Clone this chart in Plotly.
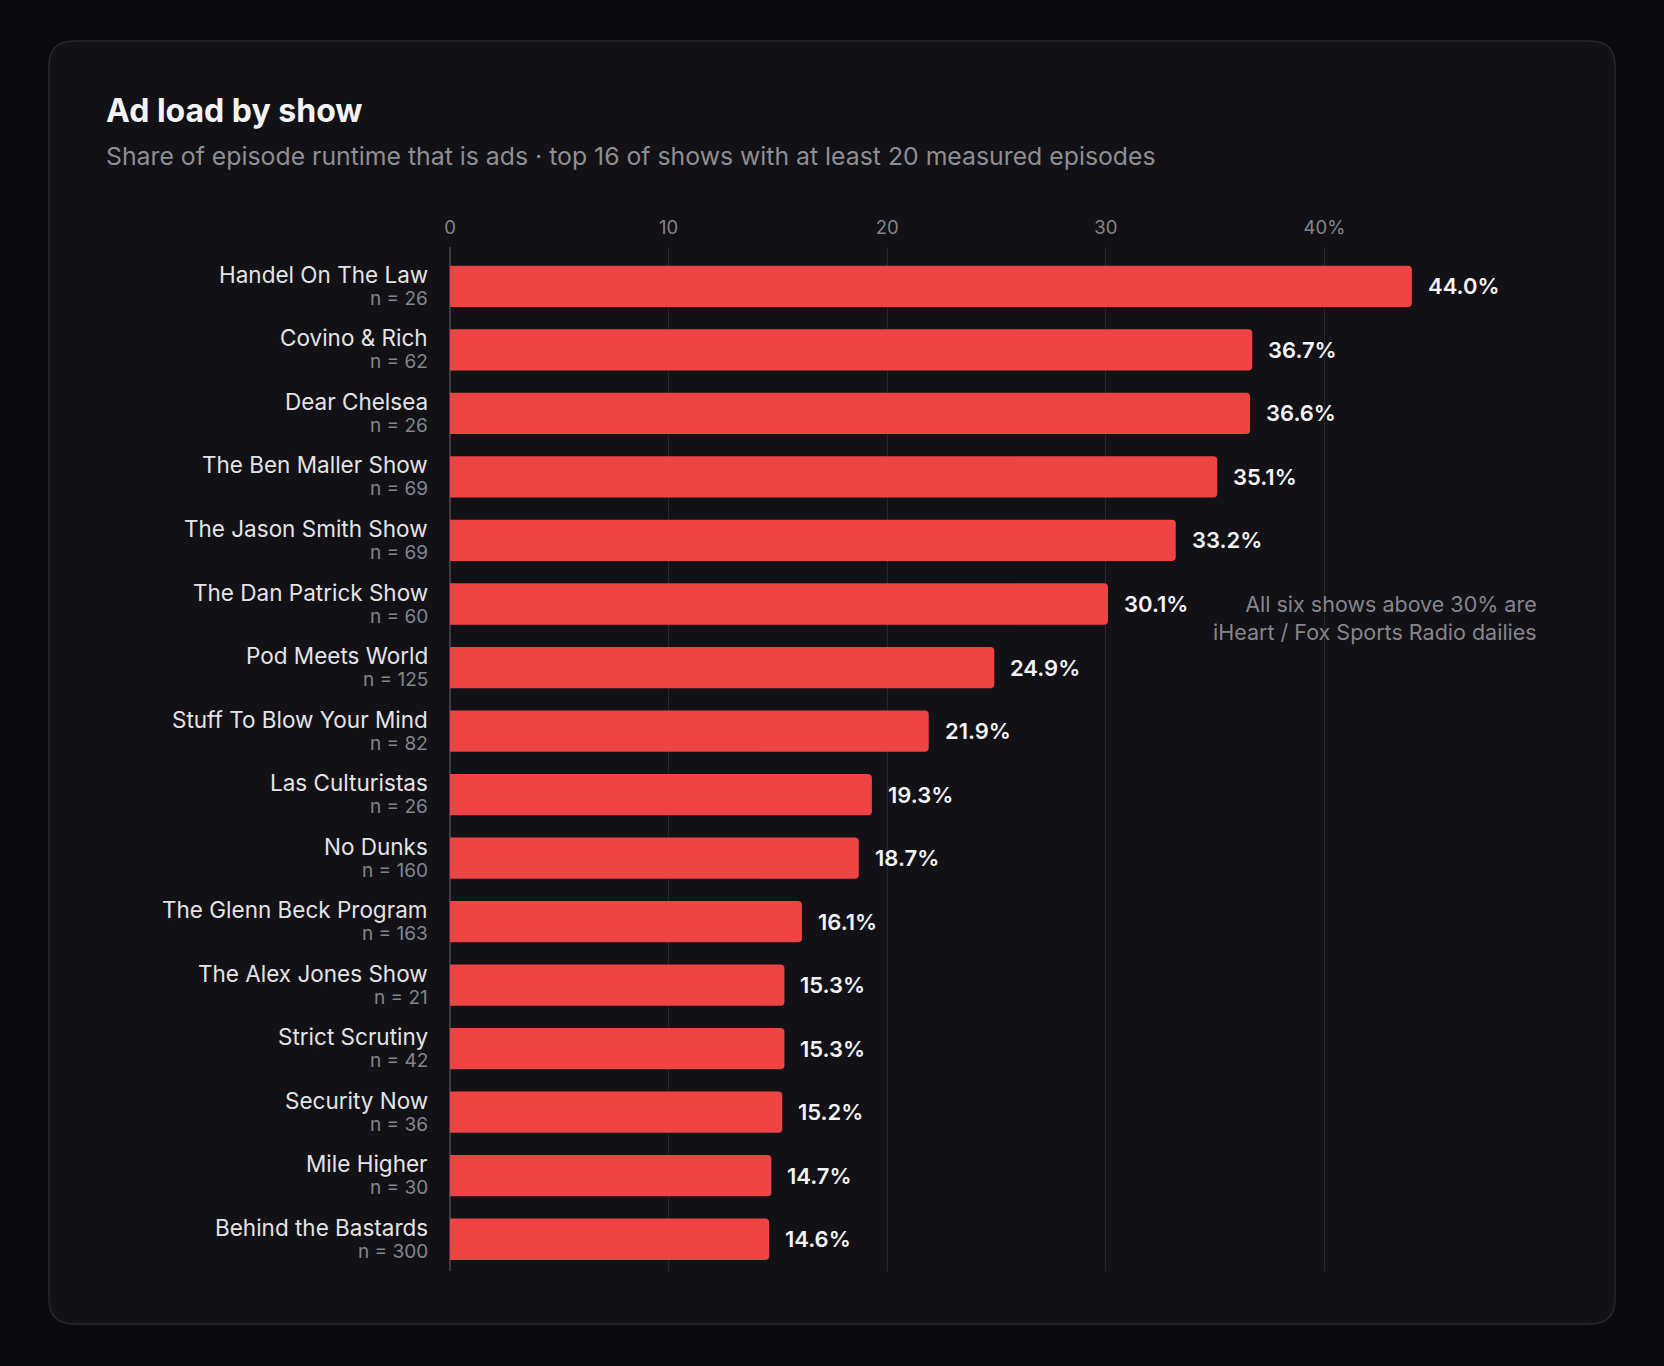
import plotly.graph_objects as go

shows = ["Handel On The Law", "Covino & Rich", "Dear Chelsea", "The Ben Maller Show",
         "The Jason Smith Show", "The Dan Patrick Show", "Pod Meets World",
         "Stuff To Blow Your Mind", "Las Culturistas", "No Dunks", "The Glenn Beck Program",
         "The Alex Jones Show", "Strict Scrutiny", "Security Now", "Mile Higher",
         "Behind the Bastards"]
ad_share = [44.0, 36.7, 36.6, 35.1, 33.2, 30.1, 24.9, 21.9, 19.3, 18.7, 16.1, 15.3, 15.3, 15.2, 14.7, 14.6]
n_eps = [26, 62, 26, 69, 69, 60, 125, 82, 26, 160, 163, 21, 42, 36, 30, 300]
tick_vals = [0, 10, 20, 30, 40]
tick_text = ["0", "10", "20", "30", "40%"]

TITLE = "Ad load by show"
SUBTITLE = "Share of episode runtime that is ads · top 16 of shows with at least 20 measured episodes"
NOTE = "All six shows above 30% are<br>iHeart / Fox Sports Radio dailies"

W, H = 1664, 1366
PL, PR, PT, PB = 450, 1543, 247, 1271  # plot area in px
FONT = "Inter, 'Noto Sans', sans-serif"


def px_x(px):
    return (px - PL) / (PR - PL)


def px_y(py):
    return (PB - py) / (PB - PT)


ypos = list(range(len(shows)))

fig = go.Figure()
fig.add_trace(go.Bar(
    x=ad_share, y=ypos, orientation="h",
    marker=dict(color="#ef4444", cornerradius=4, line=dict(width=0)),
    width=0.65, hoverinfo="skip", showlegend=False,
))

annotations = []
for i, (name, v, n) in enumerate(zip(shows, ad_share, n_eps)):
    annotations.append(dict(x=0, xref="paper", y=i, yref="y", xanchor="right", yanchor="middle",
                            xshift=-20, yshift=12, text=name, showarrow=False,
                            font=dict(family=FONT, size=22.5, color="#e4e4e7")))
    annotations.append(dict(x=0, xref="paper", y=i, yref="y", xanchor="right", yanchor="middle",
                            xshift=-20, yshift=-12, text=f"n = {n}", showarrow=False,
                            font=dict(family=FONT, size=19, color="#85858c")))
    annotations.append(dict(x=v, xref="x", y=i, yref="y", xanchor="left", yanchor="middle",
                            xshift=14, text=f"{v:.1f}%", showarrow=False,
                            font=dict(family=FONT, size=22, color="#f4f4f5", weight=600)))

annotations.append(dict(x=px_x(104), xref="paper", y=px_y(110), yref="paper", xanchor="left",
                        yanchor="middle", text=TITLE, showarrow=False,
                        font=dict(family=FONT, size=32, color="#f4f4f5", weight=700)))
annotations.append(dict(x=px_x(104), xref="paper", y=px_y(156), yref="paper", xanchor="left",
                        yanchor="middle", text=SUBTITLE, showarrow=False,
                        font=dict(family=FONT, size=24.8, color="#8e8e93")))
annotations.append(dict(x=px_x(1539), xref="paper", y=px_y(618), yref="paper", xanchor="right",
                        yanchor="middle", align="right", text=NOTE, showarrow=False,
                        font=dict(family=FONT, size=21.5, color="#86868c")))

# card with rounded corners
cl, ct, cr, cb, rad = 49, 41, 1615, 1324, 25
def P(x, y):
    return f"{px_x(x):.5f},{px_y(y):.5f}"
card_path = (f"M {P(cl + rad, ct)} L {P(cr - rad, ct)} Q {P(cr, ct)} {P(cr, ct + rad)} "
             f"L {P(cr, cb - rad)} Q {P(cr, cb)} {P(cr - rad, cb)} "
             f"L {P(cl + rad, cb)} Q {P(cl, cb)} {P(cl, cb - rad)} "
             f"L {P(cl, ct + rad)} Q {P(cl, ct)} {P(cl + rad, ct)} Z")

fig.update_layout(
    width=W, height=H,
    margin=dict(l=PL, r=W - PR, t=PT, b=H - PB, autoexpand=False),
    paper_bgcolor="#0a0a0c", plot_bgcolor="rgba(0,0,0,0)",
    font=dict(family=FONT),
    showlegend=False,
    annotations=annotations,
    shapes=[dict(type="path", path=card_path, xref="paper", yref="paper", layer="below",
                 fillcolor="#111116", line=dict(color="#26262b", width=1.5))],
    xaxis=dict(range=[0, 50], side="top", tickvals=tick_vals, ticktext=tick_text,
               showgrid=True, gridcolor="#26262b", gridwidth=1,
               zeroline=True, zerolinecolor="#3a3a40", zerolinewidth=2,
               showline=False, ticks="", ticklabelstandoff=8,
               tickfont=dict(family=FONT, size=18.5, color="#85858c"), fixedrange=True),
    yaxis=dict(range=[15.5, -0.62], showticklabels=False, showgrid=False, zeroline=False,
               showline=False, ticks="", fixedrange=True),
    bargap=0.35,
)

fig.write_html("out.html")
